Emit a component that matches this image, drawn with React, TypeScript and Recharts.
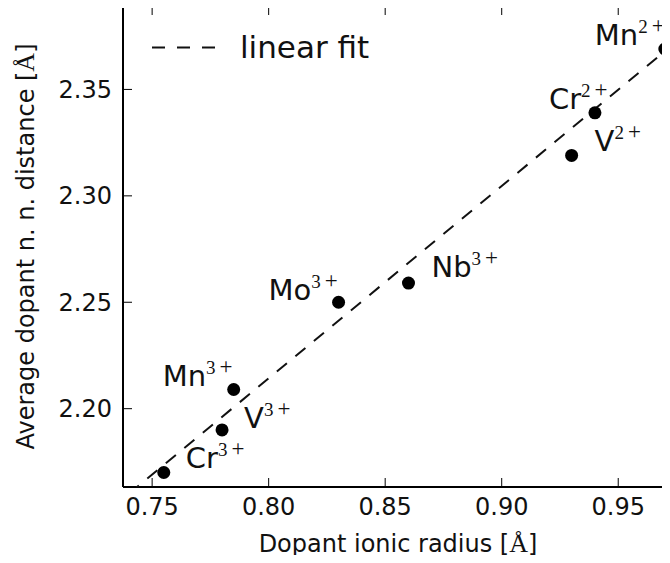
import { ScatterChart, Scatter, XAxis, YAxis, Legend } from "recharts";

// dopant ions, Shannon ionic radius (Å) and average n.n. distance (Å)
const ions = ["Cr", "V", "Mn", "Mo", "Nb", "V", "Cr", "Mn"];
const charges = ["3", "3", "3", "3", "3", "2", "2", "2"];
const radius = [0.755, 0.78, 0.785, 0.83, 0.86, 0.93, 0.94, 0.97];
const distance = [2.17, 2.19, 2.209, 2.25, 2.259, 2.319, 2.339, 2.369];

// linear fit, end points
const fitX = [0.74, 0.98];
const fitY = [2.16, 2.377];

const xTicks = [0.75, 0.8, 0.85, 0.9, 0.95];
const yTicks = [2.2, 2.25, 2.3, 2.35];

// label placement (text start / baseline relative to the dot)
const labelOffset: Record<string, [number, number]> = {
  Cr3: [22, -5],
  V3: [22, -2],
  Mn3: [-71, -4],
  Mo3: [-70, -2],
  Nb3: [23, -6],
  V2: [23, -4],
  Cr2: [-46, -4],
  Mn2: [-70, -4],
};

const FONT = "'DejaVu Sans', 'Bitstream Vera Sans', sans-serif";
const MATH = "'Liberation Serif', 'DejaVu Serif', serif";
const TICK_MARGIN = 11;
const TICK_LEN = 9;

const points = ions.map((ion, i) => ({
  x: radius[i],
  y: distance[i],
  ion,
  charge: charges[i],
}));
const fitData = fitX.map((x, i) => ({ x, y: fitY[i] }));

const IonDot = (props: any) => {
  const { cx, cy, payload } = props;
  if (cx == null || cy == null || !payload) return <g />;
  const [dx, dy] = labelOffset[payload.ion + payload.charge] || [10, -5];
  return (
    <g>
      <circle cx={cx} cy={cy} r={6.5} fill="#000" />
      <text x={cx + dx} y={cy + dy} fontSize={29} fontFamily={FONT} fill="#111">
        {payload.ion}
        <tspan dy={-12} fontSize={19} fontFamily={MATH}>
          {payload.charge}
        </tspan>
        <tspan dx={4} fontSize={23} fontFamily={MATH}>
          +
        </tspan>
      </text>
    </g>
  );
};

const BottomTick = (props: any) => {
  const { x, y, payload } = props;
  const axisY = y - TICK_MARGIN;
  return (
    <g>
      <line x1={x} x2={x} y1={axisY} y2={axisY - TICK_LEN} stroke="#000" strokeWidth={1} />
      <text x={x} y={y} dy="0.71em" textAnchor="middle" fontSize={24} fontFamily={FONT} fill="#111">
        {Number(payload.value).toFixed(2)}
      </text>
    </g>
  );
};

const LeftTick = (props: any) => {
  const { x, y, payload } = props;
  const axisX = x + TICK_MARGIN;
  return (
    <g>
      <line x1={axisX} x2={axisX + TICK_LEN} y1={y} y2={y} stroke="#000" strokeWidth={1} />
      <text x={x} y={y} dy="0.355em" textAnchor="end" fontSize={24} fontFamily={FONT} fill="#111">
        {Number(payload.value).toFixed(2)}
      </text>
    </g>
  );
};

const TopTick = (props: any) => {
  const { x, y } = props;
  return <line x1={x} x2={x} y1={y} y2={y + TICK_LEN} stroke="#000" strokeWidth={1} />;
};

const RightTick = (props: any) => {
  const { x, y } = props;
  return <line x1={x} x2={x - TICK_LEN} y1={y} y2={y} stroke="#000" strokeWidth={1} />;
};

const YLabel = (props: any) => {
  const { viewBox } = props;
  if (!viewBox) return null;
  const x = viewBox.x + 11;
  const y = viewBox.y + viewBox.height / 2;
  return (
    <text
      x={x}
      y={y}
      transform={`rotate(-90 ${x} ${y})`}
      textAnchor="middle"
      fontSize={24}
      fontFamily={FONT}
      fill="#111"
    >
      Average dopant n. n. distance [
      <tspan fontFamily={MATH} fontSize={26}>Å</tspan>]
    </text>
  );
};

const XLabel = (props: any) => {
  const { viewBox } = props;
  if (!viewBox) return null;
  const x = viewBox.x + viewBox.width / 2;
  const y = viewBox.y + viewBox.height - 11;
  return (
    <text x={x} y={y} textAnchor="middle" fontSize={24} fontFamily={FONT} fill="#111">
      Dopant ionic radius [<tspan fontFamily={MATH} fontSize={26}>Å</tspan>]
    </text>
  );
};

const FitLegend = () => (
  <svg width={260} height={50} style={{ display: "block" }}>
    <line x1={2} x2={65} y1={27.5} y2={27.5} stroke="#111" strokeWidth={2} strokeDasharray="13 12" />
    <text x={90} y={38} fontSize={31} fontFamily={FONT} fill="#111">
      linear fit
    </text>
  </svg>
);

export default function App() {
  return (
    <div style={{ margin: -8, width: 670, height: 563, overflow: "hidden", background: "#fff" }}>
      <ScatterChart width={690} height={563} margin={{ top: 5, right: 16, bottom: 0, left: 23 }}>
        <XAxis
          type="number"
          dataKey="x"
          domain={[0.7375, 0.9735]}
          allowDataOverflow
          ticks={xTicks}
          height={76}
          tickSize={0}
          tickMargin={TICK_MARGIN}
          tickLine={false}
          axisLine={{ stroke: "#000", strokeWidth: 2 }}
          tick={<BottomTick />}
          label={<XLabel />}
        />
        <XAxis
          xAxisId="top"
          orientation="top"
          type="number"
          dataKey="x"
          domain={[0.7375, 0.9735]}
          allowDataOverflow
          ticks={xTicks}
          height={1}
          tickSize={0}
          tickMargin={0}
          tickLine={false}
          axisLine={{ stroke: "#000", strokeWidth: 2 }}
          tick={<TopTick />}
        />
        <YAxis
          type="number"
          dataKey="y"
          domain={[2.1632, 2.3892]}
          allowDataOverflow
          ticks={yTicks}
          width={100}
          tickSize={0}
          tickMargin={TICK_MARGIN}
          tickLine={false}
          axisLine={{ stroke: "#000", strokeWidth: 2 }}
          tick={<LeftTick />}
          label={<YLabel />}
        />
        <YAxis
          yAxisId="right"
          orientation="right"
          type="number"
          dataKey="y"
          domain={[2.1632, 2.3892]}
          allowDataOverflow
          ticks={yTicks}
          width={1}
          tickSize={0}
          tickMargin={0}
          tickLine={false}
          axisLine={{ stroke: "#000", strokeWidth: 2 }}
          tick={<RightTick />}
        />
        <Legend
          layout="vertical"
          align="center"
          verticalAlign="middle"
          content={() => <FitLegend />}
          wrapperStyle={{ left: 150, top: 20, width: 260, height: 50 }}
        />
        <Scatter
          name="linear fit"
          data={fitData}
          fill="#111"
          line={{ stroke: "#111", strokeWidth: 2, strokeDasharray: "13 11" }}
          lineType="joint"
          shape={() => <g />}
          isAnimationActive={false}
        />
        <Scatter name="dopants" data={points} fill="#000" shape={<IonDot />} isAnimationActive={false} />
      </ScatterChart>
    </div>
  );
}
